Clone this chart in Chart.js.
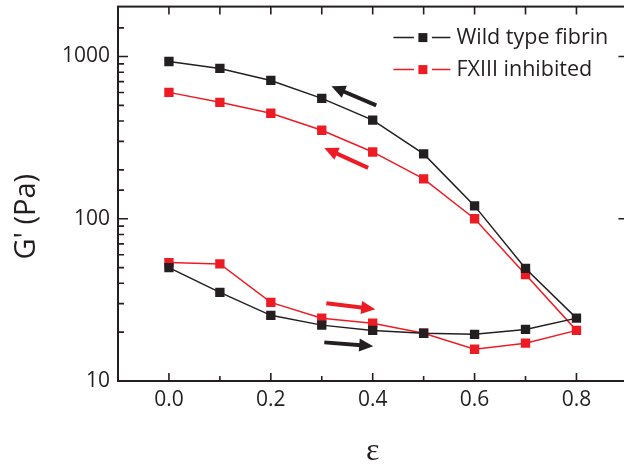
<!DOCTYPE html>
<html><head><meta charset="utf-8">
<script src="https://cdn.jsdelivr.net/npm/chart.js@4/dist/chart.umd.min.js"></script>
<style>html,body{margin:0;padding:0;background:#fff;overflow:hidden;width:624px;height:468px}</style>
</head><body>
<canvas id="c" width="634" height="468"></canvas>
<script>
// ---- data ----
const strain = [0.0, 0.1, 0.2, 0.3, 0.4, 0.5, 0.6, 0.7, 0.8];
const wildLoading   = [50, 35.2, 25.4, 22.1, 20.5, 19.7, 19.4, 20.8, 24.4];
const wildUnloading = [931, 844, 712, 552, 405, 251, 120, 49.4, 24.4];
const fxLoading     = [53.7, 52.7, 30.5, 24.4, 22.7, 19.7, 15.7, 17.1, 20.5];
const fxUnloading   = [601, 522, 447, 351, 258, 176, 100, 45.3, 20.5];
const seriesNames = ['Wild type fibrin', 'FXIII inhibited'];
const seriesColors = ['#231f20', '#ed1c24'];
const yTickLabels = [10, 100, 1000];
const xTickLabels = [0.0, 0.2, 0.4, 0.6, 0.8];
const yTitle = "G' (Pa)";
// arrow annotations in data coordinates: [xFrom, yFrom, xTo, yTo]
const arrowsBlack = [[0.407, 500, 0.319, 655], [0.305, 17.3, 0.401, 16.4]];
const arrowsRed   = [[0.391, 206, 0.305, 273], [0.309, 30.1, 0.405, 27.7]];

function loop(loading, unloading) {
  const pts = strain.map((x, i) => ({x, y: loading[i]}));
  for (let i = strain.length - 2; i >= 0; i--) pts.push({x: strain[i], y: unloading[i]});
  return pts;
}

const INK = '#231f20';
Chart.defaults.font.family = "'Open Sans'";
Chart.defaults.color = INK;

const decor = {
  id: 'decor',
  afterDraw(chart) {
    const {ctx, chartArea: a, scales: {x, y}} = chart;
    ctx.save();
    ctx.strokeStyle = INK;
    ctx.lineWidth = 2;
    ctx.strokeRect(a.left, a.top, a.right - a.left, a.bottom - a.top);
    ctx.lineWidth = 1.6;
    ctx.beginPath();
    x.ticks.forEach(t => {
      const px = x.getPixelForValue(t.value);
      if (px < a.left + 2 || px > a.right - 2) return;
      const major = xTickLabels.some(v => Math.abs(v - t.value) < 1e-6);
      ctx.moveTo(px, a.bottom); ctx.lineTo(px, a.bottom - (major ? 8 : 5));
      ctx.moveTo(px, a.top); ctx.lineTo(px, a.top + 8);
    });
    y.ticks.forEach(t => {
      const py = y.getPixelForValue(t.value);
      if (py < a.top + 2 || py > a.bottom - 2) return;
      const major = yTickLabels.some(v => Math.abs(v - t.value) < 1e-6);
      ctx.moveTo(a.left, py); ctx.lineTo(a.left + (major ? 10 : 6), py);
      if (major) { ctx.moveTo(a.right, py); ctx.lineTo(a.right - 9, py); }
    });
    ctx.stroke();

    const drawArrow = (ar, color) => {
      const x1 = x.getPixelForValue(ar[0]), y1 = y.getPixelForValue(ar[1]);
      const x2 = x.getPixelForValue(ar[2]), y2 = y.getPixelForValue(ar[3]);
      const ang = Math.atan2(y2 - y1, x2 - x1);
      const hl = 14, hw = 6.5;
      const bx = x2 - hl * Math.cos(ang), by = y2 - hl * Math.sin(ang);
      ctx.strokeStyle = color; ctx.fillStyle = color;
      ctx.lineWidth = 4; ctx.lineCap = 'butt';
      ctx.beginPath(); ctx.moveTo(x1, y1); ctx.lineTo(bx + 2 * Math.cos(ang), by + 2 * Math.sin(ang)); ctx.stroke();
      ctx.beginPath();
      ctx.moveTo(x2, y2);
      ctx.lineTo(bx - hw * Math.sin(ang), by + hw * Math.cos(ang));
      ctx.lineTo(bx + hw * Math.sin(ang), by - hw * Math.cos(ang));
      ctx.closePath(); ctx.fill();
    };
    arrowsBlack.forEach(a2 => drawArrow(a2, seriesColors[0]));
    arrowsRed.forEach(a2 => drawArrow(a2, seriesColors[1]));

    // y axis title (centred lower than the plot middle, as in the original)
    ctx.save();
    ctx.translate(27, y.getPixelForValue(100) - 2);
    ctx.rotate(-Math.PI / 2);
    ctx.font = "29px 'Open Sans'";
    ctx.textAlign = 'center'; ctx.textBaseline = 'middle';
    ctx.fillStyle = INK;
    ctx.fillText(yTitle, 0, 0);
    ctx.restore();

    // legend
    ctx.font = "21.5px 'Open Sans'";
    ctx.textBaseline = 'middle';
    ctx.textAlign = 'left';
    chart.data.datasets.forEach((ds, i) => {
      const ly = a.top + 31 + i * 32;
      const lx0 = a.right - 234, lx1 = a.right - 177, cx = (lx0 + lx1) / 2 + 1;
      ctx.strokeStyle = ds.borderColor; ctx.lineWidth = 1.5;
      ctx.beginPath();
      ctx.moveTo(lx0, ly); ctx.lineTo(cx - 9, ly);
      ctx.moveTo(cx + 9, ly); ctx.lineTo(lx1, ly);
      ctx.stroke();
      ctx.fillStyle = ds.backgroundColor;
      ctx.fillRect(cx - 4.5, ly - 4.5, 9, 9);
      ctx.fillStyle = INK;
      ctx.fillText(ds.label, a.right - 171, ly);
    });
    ctx.restore();
  }
};

new Chart(document.getElementById('c'), {
  type: 'scatter',
  data: {
    datasets: [
      {label: seriesNames[0], data: loop(wildLoading, wildUnloading), showLine: true,
       borderColor: seriesColors[0], backgroundColor: seriesColors[0], borderWidth: 1.5,
       pointStyle: 'rect', pointRadius: 6.6, pointBorderWidth: 0},
      {label: seriesNames[1], data: loop(fxLoading, fxUnloading), showLine: true,
       borderColor: seriesColors[1], backgroundColor: seriesColors[1], borderWidth: 1.5,
       pointStyle: 'rect', pointRadius: 6.6, pointBorderWidth: 0}
    ]
  },
  options: {
    responsive: false, animation: false, devicePixelRatio: 1,
    layout: {padding: {top: 5, right: 5, left: 0, bottom: 0}},
    plugins: {legend: {display: false}, tooltip: {enabled: false}},
    scales: {
      x: {
        type: 'linear', min: -0.1, max: 0.9,
        grid: {display: false, drawTicks: false}, border: {display: false},
        ticks: {stepSize: 0.1, padding: 6, autoSkip: false, maxRotation: 0, includeBounds: false,
                font: {size: 21},
                callback: v => xTickLabels.some(t => Math.abs(t - v) < 1e-6) ? v.toFixed(1) : ''},
        title: {display: true, text: 'ε', font: {family: "'Liberation Serif'", size: 32, lineHeight: 1}, padding: 0},
        afterFit: s => { s.height = 87; s.paddingLeft = 0; s.paddingRight = 0; }
      },
      y: {
        type: 'logarithmic', min: 10, max: 2030,
        grid: {display: false, drawTicks: false}, border: {display: false},
        ticks: {padding: 8, autoSkip: false, font: {size: 21},
                callback: v => yTickLabels.some(t => Math.abs(t - v) < 1e-6) ? String(v) : ''},
        title: {display: false},
        afterFit: s => { s.width = 118; s.paddingTop = 0; s.paddingBottom = 0; }
      }
    }
  },
  plugins: [decor]
});
</script>
</body></html>
